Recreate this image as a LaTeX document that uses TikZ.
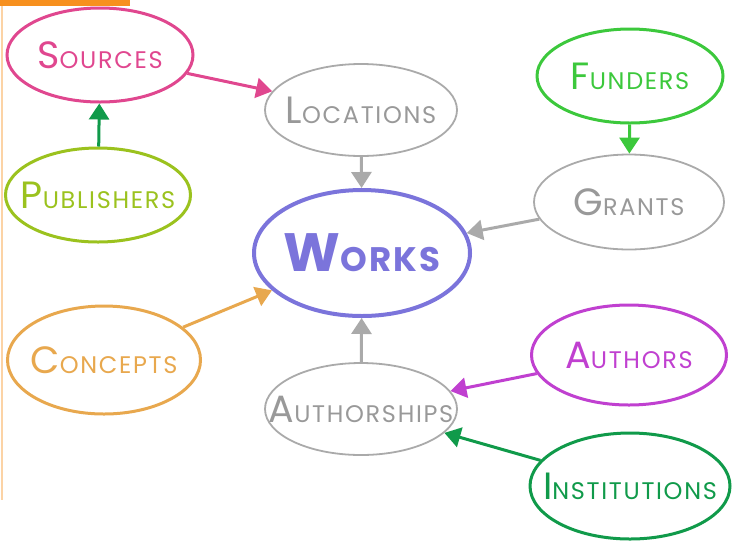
\documentclass[tikz,border=0pt]{standalone}
\usepackage{fontspec}
\usetikzlibrary{shapes.geometric,arrows.meta}
\newfontfamily\hand{Poppins}[LetterSpace=7]
\definecolor{cpink}{HTML}{E0478F}
\definecolor{cyg}{HTML}{9BC21E}
\definecolor{cdg}{HTML}{109A4A}
\definecolor{cgray}{HTML}{AAAAAA}
\definecolor{cwork}{HTML}{7B74DB}
\definecolor{cfund}{HTML}{3CC83C}
\definecolor{corange}{HTML}{E8A84E}
\definecolor{cpurp}{HTML}{C040D0}
\definecolor{cbar}{HTML}{F7901E}
\newcommand{\lbl}[2]{\makebox[0pt]{{\hand\fontsize{38}{38}\selectfont #1}{\hand\fontsize{24}{24}\selectfont #2}}}
\begin{document}
\begin{tikzpicture}[x=1pt,y=-1pt,
  ent/.style={ellipse,draw,line width=3pt,inner sep=0pt,minimum width=186pt,minimum height=94pt},
  mid/.style={ellipse,draw=cgray,line width=1.8pt,inner sep=0pt,minimum width=192pt,minimum height=92pt,text=cgray!90!black},
  con/.style={line width=3pt,-{Triangle[length=16pt,width=20pt]}}
]
\useasboundingbox (0,0) rectangle (743,542);
\fill[cbar] (0,0) rectangle (130,6);
\draw[cbar!40,line width=1.5pt] (2,6) -- (2,500);
% nodes
\node[ent,draw=cpink,text=cpink] (src) at (100,55) {\lbl{S}{OURCES}};
\node[ent,draw=cyg,text=cyg,minimum width=185pt] (pub) at (98,195) {\lbl{P}{UBLISHERS}};
\node[mid] (loc) at (361,110) {\lbl{L}{OCATIONS}};
\node[ent,draw=cwork,text=cwork,line width=4pt,minimum width=216pt,minimum height=126pt] (wrk) at (362,253) {\makebox[0pt]{\bfseries{\hand\fontsize{54}{54}\selectfont W}{\hand\fontsize{34}{34}\selectfont ORKS}}};
\node[ent,draw=cfund,text=cfund] (fun) at (630,76) {\lbl{F}{UNDERS}};
\node[mid,minimum width=190pt,minimum height=95pt] (gra) at (629,202) {\lbl{G}{RANTS}};
\node[ent,draw=corange,text=corange,minimum width=193pt,minimum height=108pt] (cpt) at (104,360) {\lbl{C}{ONCEPTS}};
\node[mid] (aus) at (361,409) {\lbl{A}{UTHORSHIPS}};
\node[ent,draw=cpurp,text=cpurp,minimum width=195pt,minimum height=100pt] (aut) at (629,355) {\lbl{A}{UTHORS}};
\node[ent,draw=cdg,text=cdg,minimum width=200pt,minimum height=106pt] (ins) at (630,486) {\lbl{I}{NSTITUTIONS}};
% connectors
\draw[con,cdg] (pub) -- (src);
\draw[con,cpink] (src) -- (loc);
\draw[con,cgray] (loc) -- (wrk);
\draw[con,cfund] (fun) -- (gra);
\draw[con,cgray] (gra) -- (wrk);
\draw[con,corange] (cpt) -- (wrk);
\draw[con,cgray] (aus) -- (wrk);
\draw[con,cpurp] (aut) -- (aus);
\draw[con,cdg] (ins) -- (aus);
\end{tikzpicture}
\end{document}
